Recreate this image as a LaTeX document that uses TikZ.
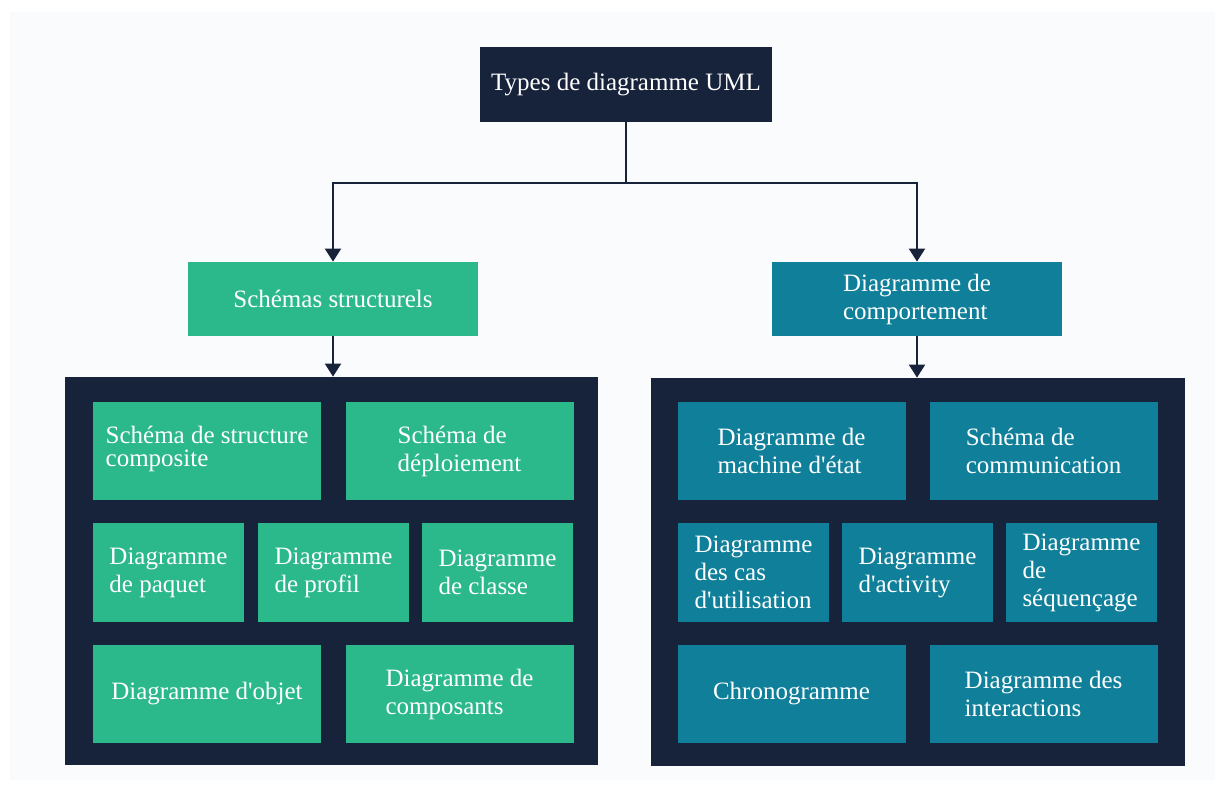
\documentclass[tikz,border=0pt]{standalone}
\usepackage{fontspec}
\setmainfont{Liberation Serif}[Ligatures=TeXOff]
\usetikzlibrary{arrows.meta}
\definecolor{navy}{HTML}{17223B}
\definecolor{umlgreen}{HTML}{2BB88A}
\definecolor{umlteal}{HTML}{0F7F9A}
\definecolor{paper}{HTML}{FAFBFC}

\begin{document}
\begin{tikzpicture}[x=0.5pt,y=-0.5pt,
    box/.style={rectangle,inner sep=0pt,text=white,align=left,font=\fontsize{12.5}{14}\selectfont},
    wide/.style={box,minimum width=114pt,minimum height=49pt},
    narrow/.style={box,minimum width=75.5pt,minimum height=49.5pt},
    link/.style={draw=navy,line width=1pt,-{Triangle[width=8pt,length=6.5pt]}}]
    \useasboundingbox (0,0) rectangle (1225,789);
    \fill[white] (0,0) rectangle (1225,789);
    \fill[paper] (10,12) rectangle (1215,780);

    % top and the two groups
    \node[box,fill=navy,minimum width=146pt,minimum height=37.5pt] (uml) at (626,84.5) {Types de diagramme UML};
    \node[box,fill=umlgreen,minimum width=145pt,minimum height=37pt] (struct) at (333,299) {Schémas structurels};
    \node[box,fill=umlteal,minimum width=145pt,minimum height=37pt] (behav) at (917,299) {Diagramme de\\comportement};

    \node[fill=navy,minimum width=266.5pt,minimum height=194pt,inner sep=0pt] (structbox) at (331.5,571) {};
    \node[fill=navy,minimum width=267pt,minimum height=194pt,inner sep=0pt] (behavbox) at (918,572) {};

    \draw[link] (uml.south) -- ++(0,61) -| (struct.north);
    \draw[link] (uml.south) -- ++(0,61) -| (behav.north);
    \draw[link] (struct.south) -- (struct.south |- structbox.north);
    \draw[link] (behav.south) -- (behav.south |- behavbox.north);

    % schémas structurels
    \node[wide,fill=umlgreen] (s1) at (207,451) {\raisebox{5pt}{\shortstack[l]{Schéma de structure\\composite}}};
    \node[wide,fill=umlgreen] (s2) at (459.5,451) {Schéma de\\déploiement};
    \node[narrow,fill=umlgreen] (s3) at (168.5,572.5) {Diagramme\\de paquet};
    \node[narrow,fill=umlgreen] (s4) at (333.5,572.5) {Diagramme\\de profil};
    \node[narrow,fill=umlgreen] (s5) at (497.5,572.5) {Diagramme\\de classe};
    \node[wide,fill=umlgreen] (s6) at (207,694) {Diagramme d'objet};
    \node[wide,fill=umlgreen] (s7) at (459.5,694) {Diagramme de\\composants};

    % diagrammes de comportement
    \node[wide,fill=umlteal] (b1) at (791.5,451) {Diagramme de\\machine d'état};
    \node[wide,fill=umlteal] (b2) at (1043.5,451) {Schéma de\\communication};
    \node[narrow,fill=umlteal] (b3) at (753.5,572.5) {Diagramme\\des cas\\d'utilisation};
    \node[narrow,fill=umlteal] (b4) at (917.5,572.5) {Diagramme\\d'activity};
    \node[narrow,fill=umlteal] (b5) at (1081.5,572.5) {Diagramme\\de\\séquençage};
    \node[wide,fill=umlteal] (b6) at (791.5,694) {Chronogramme};
    \node[wide,fill=umlteal] (b7) at (1043.5,694) {Diagramme des\\interactions};
\end{tikzpicture}
\end{document}
